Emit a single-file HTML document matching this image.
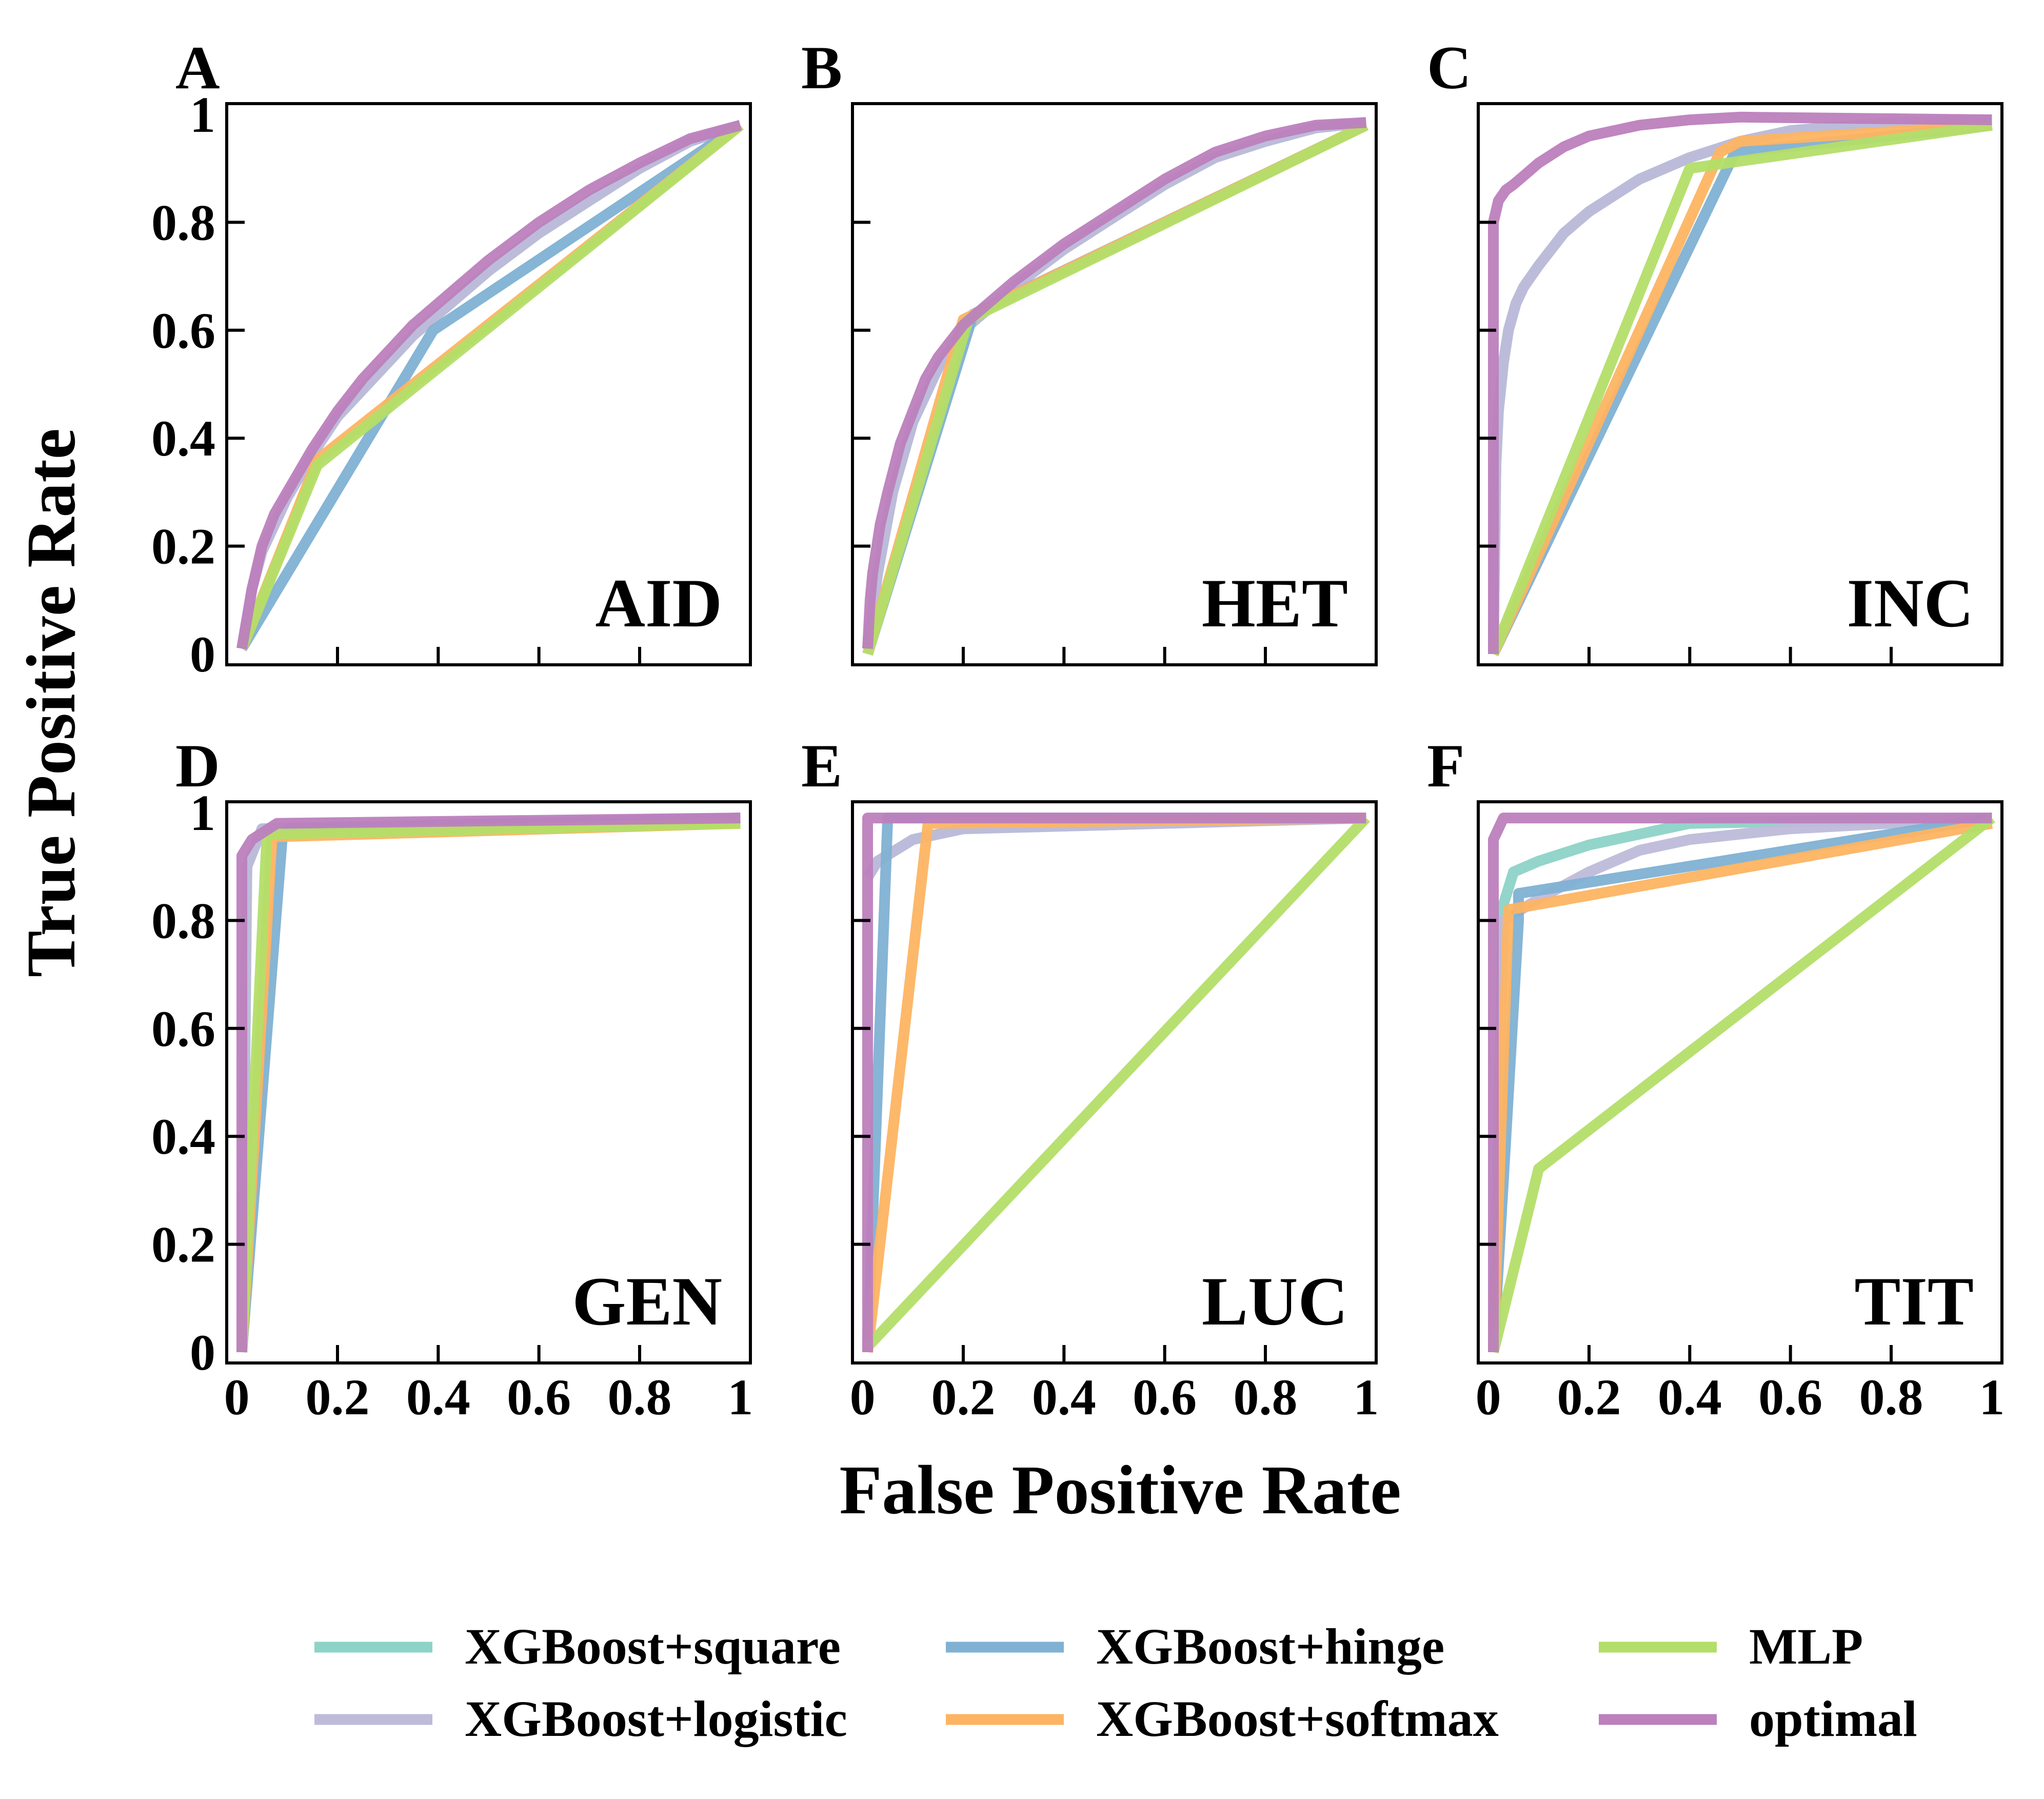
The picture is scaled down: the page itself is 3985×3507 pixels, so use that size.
<!DOCTYPE html>
<html><head><meta charset="utf-8"><style>
html,body{margin:0;padding:0;background:#fff}
svg{display:block}
text{font-family:"Liberation Serif",serif;font-weight:bold;fill:#000}
</style></head><body>
<svg id="chart" xmlns="http://www.w3.org/2000/svg" width="3985" height="3507" viewBox="0 0 3985 3507"></svg>
<script>
const seriesNames = ["XGBoost+square","XGBoost+logistic","XGBoost+hinge","XGBoost+softmax","MLP","optimal"];
const seriesKeys = ["square","logistic","hinge","softmax","mlp","optimal"];
const seriesColors = ["#8dd3c7","#bebada","#80b1d3","#fdb462","#b3de69","#bc80bd"];
const panelLetters = ["A","B","C","D","E","F"];
const panelNames = ["AID","HET","INC","GEN","LUC","TIT"];
const tickValues = [0,0.2,0.4,0.6,0.8,1];
const tickLabels = ["0","0.2","0.4","0.6","0.8","1"];

const aidSquare = [[0.01,0.01],[0.03,0.12],[0.05,0.19],[0.1,0.29],[0.15,0.37],[0.2,0.44],[0.25,0.49],[0.3,0.54],[0.35,0.59],[0.4,0.63],[0.5,0.71],[0.6,0.78],[0.7,0.84],[0.8,0.9],[0.9,0.95],[1,0.98]];
const aidLogistic = [[0.01,0.01],[0.03,0.12],[0.05,0.19],[0.1,0.29],[0.15,0.37],[0.2,0.44],[0.25,0.49],[0.3,0.54],[0.35,0.59],[0.4,0.63],[0.5,0.71],[0.6,0.78],[0.7,0.84],[0.8,0.9],[0.9,0.95],[1,0.98]];
const aidHinge = [[0.01,0.01],[0.39,0.6],[1,0.98]];
const aidSoftmax = [[0.01,0.01],[0.16,0.36],[1,0.98]];
const aidMlp = [[0.01,0.01],[0.16,0.35],[1,0.98]];
const aidOptimal = [[0.01,0.01],[0.03,0.12],[0.05,0.2],[0.075,0.26],[0.1,0.3],[0.15,0.38],[0.2,0.45],[0.25,0.51],[0.3,0.56],[0.35,0.61],[0.4,0.65],[0.5,0.73],[0.6,0.8],[0.7,0.86],[0.8,0.91],[0.9,0.955],[1,0.98]];

const hetSquare = [[0.01,0.01],[0.03,0.15],[0.06,0.3],[0.1,0.43],[0.15,0.53],[0.2,0.6],[0.3,0.68],[0.4,0.75],[0.5,0.81],[0.6,0.87],[0.7,0.92],[0.8,0.95],[0.9,0.975],[1,0.985]];
const hetLogistic = hetSquare;
const hetHinge = [[0.01,0],[0.22,0.63],[1,0.98]];
const hetSoftmax = [[0.01,0],[0.2,0.62],[1,0.98]];
const hetMlp = [[0.01,0],[0.21,0.62],[1,0.98]];
const hetOptimal = [[0.01,0.01],[0.015,0.1],[0.02,0.15],[0.035,0.24],[0.05,0.3],[0.075,0.39],[0.1,0.45],[0.125,0.51],[0.15,0.55],[0.2,0.61],[0.25,0.65],[0.3,0.69],[0.4,0.76],[0.5,0.82],[0.6,0.88],[0.7,0.93],[0.8,0.96],[0.9,0.98],[1,0.985]];

const incSquare = [[0.01,0],[0.015,0.35],[0.02,0.45],[0.03,0.54],[0.04,0.6],[0.055,0.65],[0.07,0.68],[0.1,0.72],[0.15,0.78],[0.2,0.82],[0.25,0.85],[0.3,0.88],[0.4,0.92],[0.5,0.95],[0.6,0.97],[0.8,0.985],[1,0.99]];
const incLogistic = incSquare;
const incHinge = [[0.01,0],[0.49,0.93],[1,0.98]];
const incSoftmax = [[0.01,0],[0.46,0.93],[0.5,0.95],[1,0.98]];
const incMlp = [[0.01,0],[0.4,0.9],[1,0.98]];
const incOptimal = [[0.01,0],[0.01,0.8],[0.02,0.84],[0.035,0.86],[0.05,0.87],[0.075,0.89],[0.1,0.91],[0.15,0.94],[0.2,0.96],[0.25,0.97],[0.3,0.98],[0.4,0.99],[0.5,0.995],[1,0.99]];

const genSquare = [[0.01,0],[0.02,0.9],[0.05,0.97],[1,0.99]];
const genLogistic = [[0.01,0],[0.02,0.9],[0.05,0.97],[1,0.99]];
const genHinge = [[0.01,0],[0.09,0.95],[0.1,0.97],[1,0.99]];
const genSoftmax = [[0.01,0],[0.07,0.955],[1,0.98]];
const genMlp = [[0.01,0],[0.06,0.96],[1,0.98]];
const genOptimal = [[0.01,0],[0.01,0.92],[0.03,0.95],[0.08,0.98],[1,0.99]];

const lucSquare = [[0.01,0.88],[0.03,0.91],[0.1,0.95],[0.2,0.97],[1,0.99]];
const lucLogistic = [[0.01,0.88],[0.03,0.91],[0.1,0.95],[0.2,0.97],[1,0.99]];
const lucHinge = [[0.01,0],[0.05,0.99],[1,0.99]];
const lucSoftmax = [[0.01,0],[0.13,0.98],[1,0.99]];
const lucMlp = [[0.01,0.01],[1,0.99]];
const lucOptimal = [[0.01,0],[0.01,0.99],[1,0.99]];

const titSquare = [[0.01,0],[0.03,0.83],[0.05,0.89],[0.1,0.91],[0.2,0.94],[0.3,0.96],[0.4,0.98],[1,0.99]];
const titLogistic = [[0.01,0],[0.03,0.8],[0.1,0.84],[0.2,0.89],[0.3,0.93],[0.4,0.95],[0.6,0.97],[1,0.99]];
const titHinge = [[0.01,0],[0.06,0.8],[0.06,0.85],[1,0.99]];
const titSoftmax = [[0.01,0],[0.04,0.82],[1,0.98]];
const titMlp = [[0.01,0],[0.1,0.34],[1,0.99]];
const titOptimal = [[0.01,0],[0.01,0.95],[0.03,0.99],[1,0.99]];

const panelSeries = [
  [aidSquare,aidLogistic,aidHinge,aidSoftmax,aidMlp,aidOptimal],
  [hetSquare,hetLogistic,hetHinge,hetSoftmax,hetMlp,hetOptimal],
  [incSquare,incLogistic,incHinge,incSoftmax,incMlp,incOptimal],
  [genSquare,genLogistic,genHinge,genSoftmax,genMlp,genOptimal],
  [lucSquare,lucLogistic,lucHinge,lucSoftmax,lucMlp,lucOptimal],
  [titSquare,titLogistic,titHinge,titSoftmax,titMlp,titOptimal]
];

const NS = "http://www.w3.org/2000/svg";
const svg = document.getElementById("chart");
function mk(tag, attrs, parent){
  const e = document.createElementNS(NS, tag);
  for (const k in attrs) e.setAttribute(k, attrs[k]);
  (parent||svg).appendChild(e);
  return e;
}
const PW = 1021, PH = 1094;
const lefts = [442,1662,2882], tops = [202,1563];
const LIM0 = -0.02, LIM1 = 1.02;

panelSeries.forEach((series, p) => {
  const col = p % 3, row = Math.floor(p / 3);
  const L = lefts[col], T = tops[row];
  const xs = v => L + (v - LIM0) / (LIM1 - LIM0) * PW;
  const ys = v => T + PH - (v - LIM0) / (LIM1 - LIM0) * PH;
  const g = mk("g", {});
  
  
  const cp = mk("clipPath", {id: "cp" + p}, g);
  mk("rect", {x: L, y: T, width: PW, height: PH}, cp);
  const lg = mk("g", {"clip-path": "url(#cp" + p + ")"}, g);
  series.forEach((pts, s) => {
    const d = pts.map((q, i) => (i ? "L" : "M") + xs(q[0]).toFixed(1) + " " + ys(q[1]).toFixed(1)).join(" ");
    const path = mk("path", {d: d, fill: "none", stroke: seriesColors[s], "stroke-width": 21, "stroke-linejoin": "round", "stroke-opacity": 0.95}, lg);
    
    
  });
  tickValues.forEach((v, i) => {
    if (i > 0 && i < 5) {
      const tx = mk("line", {x1: xs(v), x2: xs(v), y1: T + PH, y2: T + PH - 35, stroke: "#000", "stroke-width": 6}, g);
      
      
      const ty = mk("line", {x1: L, x2: L + 35, y1: ys(v), y2: ys(v), stroke: "#000", "stroke-width": 6}, g);
      
      
    }
    if (col === 0) {
      const t = mk("text", {x: L - 22, y: ys(v) + 34, "text-anchor": "end", "font-size": 100}, g);
      t.textContent = tickLabels[i];
      
      
    }
    if (row === 1) {
      const t = mk("text", {x: xs(v), y: T + PH + 100, "text-anchor": "middle", "font-size": 100}, g);
      t.textContent = tickLabels[i];
      
      
    }
  });
  const fr = mk("rect", {x: L, y: T, width: PW, height: PH, fill: "none", stroke: "#000", "stroke-width": 6}, g);
  
  
  const lt = mk("text", {x: L - 100, y: T - 30, "font-size": 120}, g);
  lt.textContent = panelLetters[p];
  
  
  const nt = mk("text", {x: L + PW - 55, y: T + PH - 75, "text-anchor": "end", "font-size": 135}, g);
  nt.textContent = panelNames[p];
  
  
});

const yt = mk("text", {x: 0, y: 0, "text-anchor": "middle", "font-size": 136, transform: "translate(145,1370) rotate(-90)"});
yt.textContent = "True Positive Rate";


const xt = mk("text", {x: 2184, y: 2950, "text-anchor": "middle", "font-size": 136});
xt.textContent = "False Positive Rate";



const legX = [613, 1844, 3117], legY = [3211, 3352];
const lgG = mk("g", {});


seriesNames.forEach((n, s) => {
  const c = Math.floor(s / 2), r = s % 2;
  const e = mk("g", {}, lgG);
  
  
  mk("line", {x1: legX[c], x2: legX[c] + 230, y1: legY[r], y2: legY[r], stroke: seriesColors[s], "stroke-width": 21}, e);
  const t = mk("text", {x: legX[c] + 293, y: legY[r] + 32, "font-size": 100}, e);
  t.textContent = n;
});
</script>
</body></html>
